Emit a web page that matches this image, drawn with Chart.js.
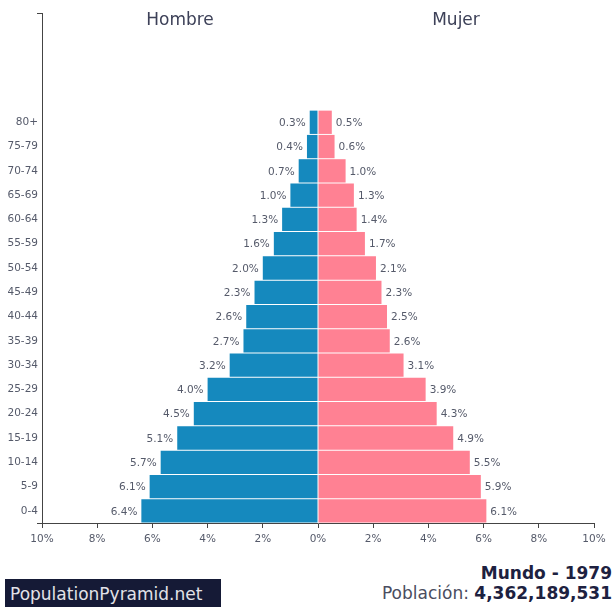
<!DOCTYPE html>
<html>
<head>
<meta charset="utf-8">
<script src="https://cdn.jsdelivr.net/npm/chart.js@4.4.0/dist/chart.umd.min.js"></script>
<style>
    body { margin: 0; background: #fff; font-family: "DejaVu Sans", sans-serif; }
    #wrap { position: relative; width: 614px; height: 607px; overflow: hidden; }
    #chartBox { position: absolute; left: 0; top: 0; width: 614px; height: 555px; }
    .brand { position: absolute; left: 5px; top: 579px; width: 216px; height: 34px; background: #151a36;
             color: #e2e2e8; font-size: 17px; line-height: 30px; padding-left: 5px; box-sizing: border-box; }
    .place { position: absolute; right: 2px; top: 563px; font-size: 17px; font-weight: bold; color: #1d2140; }
    .pop { position: absolute; right: 2px; top: 583px; font-size: 17px; color: #4a4d60; }
    .pop b { color: #1d2140; }
</style>
</head>
<body>
<div id="wrap">
    <div id="chartBox"><canvas id="pyramid"></canvas></div>
    <div class="brand">PopulationPyramid.net</div>
    <div class="place">Mundo - 1979</div>
    <div class="pop">Población: <b>4,362,189,531</b></div>
</div>
<script>
// grupos de edad, de abajo hacia arriba
const ageGroups = ['0-4', '5-9', '10-14', '15-19', '20-24', '25-29', '30-34', '35-39', '40-44',
                   '45-49', '50-54', '55-59', '60-64', '65-69', '70-74', '75-79', '80+'];
const male = [6.4, 6.1, 5.7, 5.1, 4.5, 4.0, 3.2, 2.7, 2.6, 2.3, 2.0, 1.6, 1.3, 1.0, 0.7, 0.4, 0.3];
const female = [6.1, 5.9, 5.5, 4.9, 4.3, 3.9, 3.1, 2.6, 2.5, 2.3, 2.1, 1.7, 1.4, 1.3, 1.0, 0.6, 0.5];
const xTicks = [-10, -8, -6, -4, -2, 0, 2, 4, 6, 8, 10];

const fontFamily = '"DejaVu Sans", sans-serif';

// etiquetas de valor, títulos y extremos del eje
const pyramidLabels = {
    id: 'pyramidLabels',
    afterDatasetsDraw(chart) {
        const ctx = chart.ctx;
        const xs = chart.scales.x;
        const area = chart.chartArea;
        ctx.save();
        ctx.font = '10.5px ' + fontFamily;
        ctx.fillStyle = '#555a6a';
        ctx.textBaseline = 'middle';
        chart.getDatasetMeta(0).data.forEach((bar, i) => {
            ctx.textAlign = 'right';
            ctx.fillText(male[i].toFixed(1) + '%', bar.x - 4, bar.y + 1);
        });
        chart.getDatasetMeta(1).data.forEach((bar, i) => {
            ctx.textAlign = 'left';
            ctx.fillText(female[i].toFixed(1) + '%', bar.x + 4, bar.y + 1);
        });
        ctx.font = '17px ' + fontFamily;
        ctx.fillStyle = '#3d4158';
        ctx.textAlign = 'center';
        ctx.fillText('Hombre', (xs.getPixelForValue(-10) + xs.getPixelForValue(0)) / 2, 21);
        ctx.fillText('Mujer', (xs.getPixelForValue(0) + xs.getPixelForValue(10)) / 2, 21);

        // pequeñas marcas en los extremos del eje vertical
        ctx.strokeStyle = '#444';
        ctx.lineWidth = 1;
        ctx.beginPath();
        ctx.moveTo(area.left - 5, Math.round(area.top) + 0.5);
        ctx.lineTo(area.left, Math.round(area.top) + 0.5);
        ctx.moveTo(area.left - 5, Math.round(area.bottom) + 0.5);
        ctx.lineTo(area.left, Math.round(area.bottom) + 0.5);
        ctx.stroke();
        ctx.restore();
    }
};

new Chart(document.getElementById('pyramid'), {
    type: 'bar',
    data: {
        datasets: [{
            label: 'Hombre',
            data: male.map((v, i) => ({ x: -v, y: i })),
            backgroundColor: '#1589be',
            barPercentage: 0.96,
            categoryPercentage: 1
        }, {
            label: 'Mujer',
            data: female.map((v, i) => ({ x: v, y: i })),
            backgroundColor: '#ff8193',
            barPercentage: 0.96,
            categoryPercentage: 1
        }]
    },
    options: {
        indexAxis: 'y',
        responsive: true,
        maintainAspectRatio: false,
        animation: false,
        layout: { padding: { top: 13, right: 20, left: 0, bottom: 0 } },
        scales: {
            x: {
                type: 'linear',
                min: -10,
                max: 10,
                stacked: true,
                afterBuildTicks: scale => { scale.ticks = xTicks.map(v => ({ value: v })); },
                afterFit: scale => { scale.height = 32; },
                grid: { display: true, drawOnChartArea: false, drawTicks: true, tickLength: 5, color: '#444' },
                border: { display: true, color: '#444', width: 1 },
                ticks: {
                    padding: 5,
                    color: '#555a6a',
                    font: { family: fontFamily, size: 10.5 },
                    maxRotation: 0,
                    callback: v => Math.abs(v) + '%'
                }
            },
            y: {
                type: 'linear',
                min: -0.5,
                max: 20.5,
                offset: false,
                stacked: true,
                afterBuildTicks: scale => { scale.ticks = ageGroups.map((g, i) => ({ value: i })); },
                afterFit: scale => { scale.width = 42; },
                grid: { display: false, drawTicks: false },
                border: { display: true, color: '#444', width: 1 },
                ticks: {
                    padding: 4,
                    color: '#555a6a',
                    font: { family: fontFamily, size: 10.5 },
                    callback: v => ageGroups[v] || ''
                }
            }
        },
        plugins: {
            legend: { display: false },
            tooltip: { enabled: false }
        }
    },
    plugins: [pyramidLabels]
});
</script>
</body>
</html>
